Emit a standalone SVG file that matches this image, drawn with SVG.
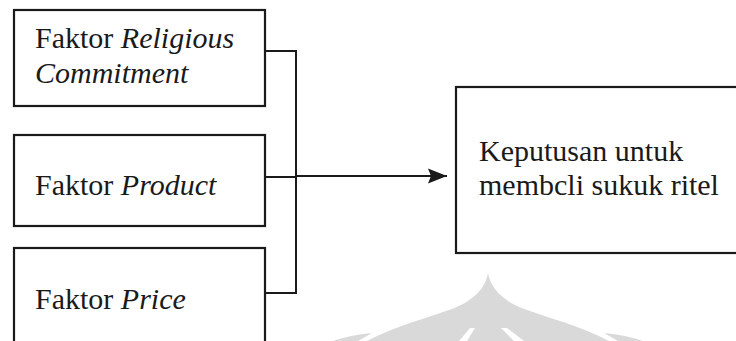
<svg xmlns="http://www.w3.org/2000/svg" width="736" height="341" viewBox="0 0 736 341">
<defs>
<style>
.box{fill:none;stroke:#1a1a1a;stroke-width:2.2}
.ln{fill:none;stroke:#1a1a1a;stroke-width:2}
text{font-size:30px;fill:#1a1a1a}
.i{font-style:italic}
.wm{fill:#d9d9d9}
.cut{fill:#ffffff}
</style>
<marker id="ah" markerWidth="19" markerHeight="16" refX="19" refY="8" orient="auto" markerUnits="userSpaceOnUse">
<path d="M0,0.5 L19,8 L0,15.5 L3,8 Z" fill="#1a1a1a"/>
</marker>
</defs>
<rect width="736" height="341" fill="#ffffff"/>
<g id="watermark">
<path class="wm" d="M488,273 C485,290 472,301 452,309 C427,318 395,326 367,341 L609,341 C581,326 549,318 524,309 C504,301 491,290 488,273 Z"/>
<polygon class="cut" points="459,341 470,328 475,328 467,341"/>
<polygon class="cut" points="501,328 507,328 524,341 514,341"/>
<path class="wm" d="M333,341 Q350,335 372,333 L358,341 Z"/>
<path class="wm" d="M643,341 Q626,335 604,333 L618,341 Z"/>
</g>
<g id="connectors">
<polyline class="ln" points="265,51 296,51 296,293 265,293"/>
<line class="ln" x1="265" y1="177" x2="296" y2="177"/>
<line class="ln" x1="296" y1="176" x2="447" y2="176" marker-end="url(#ah)"/>
</g>
<g font-family="'Liberation Serif', 'DejaVu Serif', serif">
<g id="node-religious">
<rect class="box" x="14" y="10" width="251" height="96"/>
<text x="35" y="48">Faktor <tspan class="i">Religious</tspan></text>
<text class="i" x="35" y="83">Commitment</text>
</g>
<g id="node-product">
<rect class="box" x="14" y="135" width="251" height="91"/>
<text x="35" y="195">Faktor <tspan class="i">Product</tspan></text>
</g>
<g id="node-price">
<rect class="box" x="14" y="248" width="251" height="110"/>
<text x="35" y="309">Faktor <tspan class="i">Price</tspan></text>
</g>
<g id="node-keputusan">
<rect class="box" x="456" y="87" width="300" height="166"/>
<text x="479" y="161">Keputusan untuk</text>
<text x="479" y="195">membcli sukuk ritel</text>
</g>
</g>
</svg>
